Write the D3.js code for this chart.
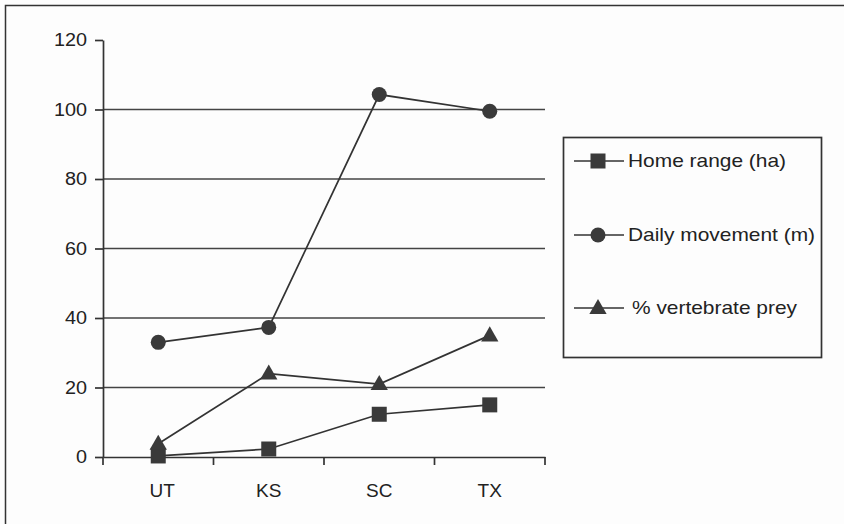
<!DOCTYPE html>
<html><head><meta charset="utf-8">
<script src="https://cdn.jsdelivr.net/npm/d3@7"></script>
<style>body{margin:0;background:#fdfdfd}svg{display:block}</style>
</head><body>
<script>
const categories = ["UT","KS","SC","TX"];
const homeRange = [0.3, 2.3, 12.3, 15];
const dailyMovement = [33, 37.3, 104.3, 99.5];
const vertebratePrey = [3.8, 24, 21, 35];
const yTicks = [0,20,40,60,80,100,120];
const seriesNames = ["Home range (ha)","Daily movement (m)","% vertebrate prey"];
const seriesShapes = ["square","circle","triangle"];

const W=844,H=524, ink="#333";
const svg=d3.select("body").append("svg").attr("width",W).attr("height",H)
  .style("font-family","'Liberation Sans', Arial, sans-serif");
svg.append("rect").attr("width",W).attr("height",H).attr("fill","#fdfdfd");
// outer frame (top & left visible)
svg.append("path").attr("d",`M5.5,${H} V5.5 H${W}`).attr("fill","none").attr("stroke",ink).attr("stroke-width",1.5);

const x0=103,x1=545,yTop=40,yBot=457;
const x=d3.scaleBand().domain(categories).range([x0,x1]);
const y=d3.scaleLinear().domain([0,120]).range([yBot,yTop]);
const cx=c=>x(c)+x.bandwidth()/2;

// gridlines
svg.append("g").selectAll("line").data(yTicks.filter(t=>t>0&&t<120)).join("line")
  .attr("x1",x0).attr("x2",x1).attr("y1",d=>y(d)).attr("y2",d=>y(d))
  .attr("stroke","#444").attr("stroke-width",1.7);

// y axis
const ya=svg.append("g").attr("transform",`translate(${x0},0)`)
  .call(d3.axisLeft(y).tickValues(yTicks).tickSize(8).tickSizeOuter(0));
ya.select(".domain").attr("stroke",ink).attr("stroke-width",1.7);
ya.selectAll(".tick line").attr("stroke",ink).attr("stroke-width",1.7);
ya.selectAll("text").attr("font-size",18).attr("fill","#222").attr("x",-16)
  .each(function(){const L=this.getComputedTextLength();d3.select(this).attr("textLength",L*1.1).attr("lengthAdjust","spacingAndGlyphs");});

// x axis
const xa=svg.append("g").attr("transform",`translate(0,${yBot})`)
  .call(d3.axisBottom(x).tickSize(0).tickSizeOuter(0));
xa.select(".domain").attr("stroke",ink).attr("stroke-width",1.7);
xa.selectAll("text").attr("font-size",19).attr("fill","#222").attr("dy",0).attr("y",40)
  .attr("dx",(d,i)=>i===0?4:0);
// boundary ticks
svg.append("g").selectAll("line").data(d3.range(categories.length+1)).join("line")
  .attr("x1",i=>x0+i*x.bandwidth()).attr("x2",i=>x0+i*x.bandwidth())
  .attr("y1",yBot).attr("y2",yBot+8).attr("stroke",ink).attr("stroke-width",1.7);

const marker={
  square:(g,px,py)=>g.append("rect").attr("x",px-7.5).attr("y",py-7.5).attr("width",15).attr("height",15).attr("fill","#3a3a3a"),
  circle:(g,px,py)=>g.append("circle").attr("cx",px).attr("cy",py).attr("r",7.5).attr("fill","#3a3a3a"),
  triangle:(g,px,py)=>g.append("path").attr("d",d3.symbol(d3.symbolTriangle,130)()).attr("transform",`translate(${px},${py+1})`).attr("fill","#3a3a3a")
};

const series=[homeRange,dailyMovement,vertebratePrey];
const line=d3.line().x((d,i)=>cx(categories[i])).y(d=>y(d));
const plot=svg.append("g");
series.forEach((vals,si)=>{
  plot.append("path").attr("d",line(vals)).attr("fill","none").attr("stroke",ink).attr("stroke-width",1.7);
});
series.forEach((vals,si)=>{
  vals.forEach((v,i)=>marker[seriesShapes[si]](plot,cx(categories[i]),y(v)));
});

// legend
const lg=svg.append("g");
lg.append("rect").attr("x",563.5).attr("y",137.5).attr("width",258).attr("height",220)
  .attr("fill","none").attr("stroke",ink).attr("stroke-width",1.7);
const rowY=[161,235,308];
seriesNames.forEach((n,i)=>{
  lg.append("line").attr("x1",574).attr("x2",624).attr("y1",rowY[i]).attr("y2",rowY[i]).attr("stroke",ink).attr("stroke-width",1.7);
  marker[seriesShapes[i]](lg,598,rowY[i]);
  const t=lg.append("text").attr("x",i===2?632:628).attr("y",rowY[i]).attr("dy","0.35em")
    .attr("font-size",18.5).attr("fill","#222").text(n);
  const L=t.node().getComputedTextLength();
  t.attr("textLength",L*1.13).attr("lengthAdjust","spacingAndGlyphs");
});
</script>
</body></html>
